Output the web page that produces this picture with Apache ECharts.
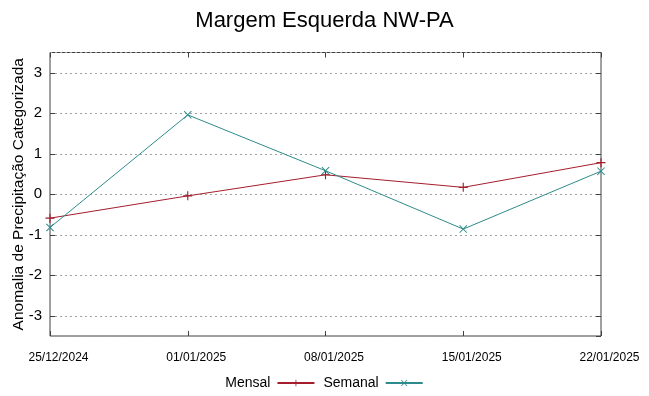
<!DOCTYPE html>
<html><head><meta charset="utf-8">
<script src="https://cdn.jsdelivr.net/npm/echarts@6/dist/echarts.min.js"></script>
<style>html,body{margin:0;padding:0;background:#fff}#c{width:649px;height:396px}</style>
</head><body><div id="c"></div>
<script>
const categories = ['25/12/2024','01/01/2025','08/01/2025','15/01/2025','22/01/2025'];
const mensal = [-0.59, -0.04, 0.48, 0.17, 0.78];
const semanal = [-0.82, 1.96, 0.58, -0.86, 0.57];
const yMin = -3.5, yMax = 3.5;

const plusPath = 'path://M0,3.5H8V4.5H0Z M3.5,0H4.5V8H3.5Z';
const crossPath = 'path://M0,0.7L0.7,0L8,7.3L7.3,8Z M7.3,0L8,0.7L0.7,8L0,7.3Z';
const font = 'Liberation Sans, Arial, sans-serif';

const chart = echarts.init(document.getElementById('c'), null, {renderer:'canvas'});
chart.setOption({
  animation:false,
  backgroundColor:'#fff',
  title:{text:'Margem Esquerda NW-PA', left:'center', top:5,
    textStyle:{fontFamily:font, fontSize:22, fontWeight:'normal', color:'#000'}},
  legend:{bottom:1, left:'center', align:'right', itemWidth:37, itemHeight:8, itemGap:8,
    padding:[5,5,5,11],
    textStyle:{fontFamily:font, fontSize:14, color:'#000', padding:[0,2,0,0]},
    data:['Mensal','Semanal']},
  grid:{left:50, right:48, top:52.5, bottom:60, show:true, borderColor:'#404040', borderWidth:1,
    containLabel:false, outerBoundsMode:'none'},
  xAxis:[
    {type:'category', data:categories, boundaryGap:false, position:'bottom',
     axisLine:{show:false, onZero:false}, axisTick:{show:true, inside:true, length:5, lineStyle:{color:'#404040'}},
     axisLabel:{fontFamily:font, fontSize:12, color:'#000', margin:16, padding:[0,0,0,17]}, splitLine:{show:false}},
    {type:'category', data:categories, boundaryGap:false, position:'top',
     axisLine:{show:false, onZero:false}, axisTick:{show:true, inside:true, length:5, lineStyle:{color:'#404040'}},
     axisLabel:{show:false}, splitLine:{show:false}}
  ],
  yAxis:[
    {type:'value', min:yMin, max:yMax, splitNumber:7, position:'left',
     name:'Anomalia de Precipitação Categorizada', nameLocation:'middle', nameGap:23, nameMoveOverlap:false,
     nameTextStyle:{fontFamily:font, fontSize:15.5, color:'#000'},
     axisLine:{show:false}, axisTick:{show:true, inside:true, length:5, lineStyle:{color:'#404040'}},
     axisLabel:{fontFamily:font, fontSize:15, color:'#000', margin:8, showMinLabel:false, showMaxLabel:false},
     splitLine:{show:true, lineStyle:{color:'#a0a0a0', type:[2,3], width:1}}},
    {type:'value', min:yMin, max:yMax, splitNumber:7, position:'right',
     axisLine:{show:false}, axisTick:{show:true, inside:true, length:5, lineStyle:{color:'#404040'}},
     axisLabel:{show:false}, splitLine:{show:false}}
  ],
  series:[
    {name:'Mensal', type:'line', data:mensal, xAxisIndex:0, yAxisIndex:0,
     symbol:plusPath, symbolSize:9, showSymbol:true,
     lineStyle:{color:'#a51d2d', width:1}, itemStyle:{color:'#a51d2d'}},
    {name:'Semanal', type:'line', data:semanal, xAxisIndex:0, yAxisIndex:0,
     symbol:crossPath, symbolSize:8, showSymbol:true,
     lineStyle:{color:'#2e8b8b', width:1}, itemStyle:{color:'#2e8b8b'}}
  ]
});
</script></body></html>
